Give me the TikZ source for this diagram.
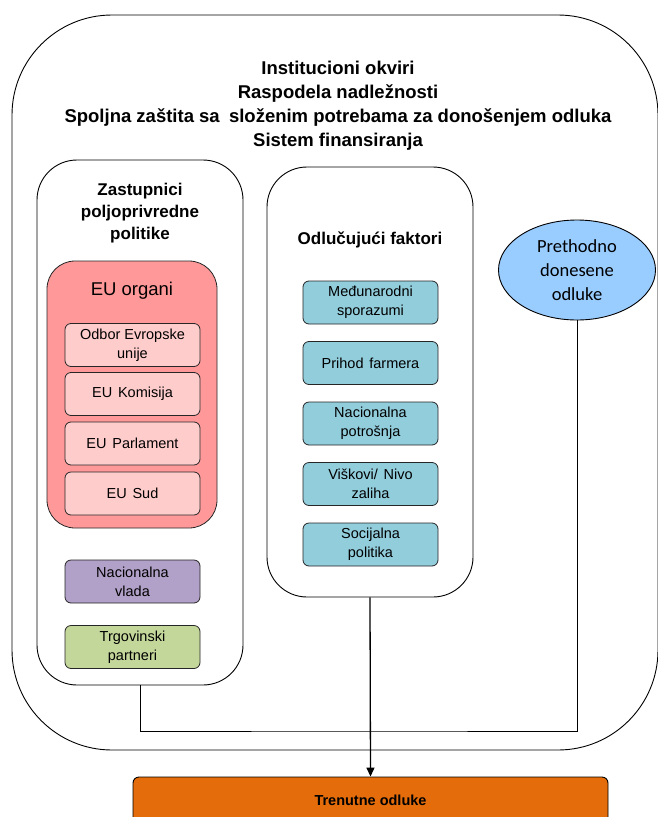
\documentclass[tikz,border=0pt]{standalone}
\usepackage{fontspec}
\setmainfont{Liberation Sans}
\newfontfamily\carl{Carlito}
\usetikzlibrary{arrows.meta,shapes.geometric}
\definecolor{euorg}{HTML}{FF9999}
\definecolor{euin}{HTML}{FFCCCC}
\definecolor{natgov}{HTML}{B1A0C7}
\definecolor{trade}{HTML}{C4D79B}
\definecolor{factor}{HTML}{92CDDC}
\definecolor{prevc}{HTML}{99CCFF}
\definecolor{curr}{HTML}{E46C0A}
\begin{document}
\begin{tikzpicture}[x=1pt,y=-1pt,
  frame/.style={draw=black, line width=0.9pt, fill=white, inner sep=0pt},
  sbox/.style={draw=black!85, line width=0.8pt, rounded corners=6pt, minimum width=135pt,
    minimum height=43pt, align=center, inner sep=0pt,
    font=\fontsize{14.5}{19}\selectfont},
  ttl/.style={align=center, font=\bfseries\fontsize{17}{22}\selectfont},
  conn/.style={draw=black, line width=0.9pt}
]
\useasboundingbox (0,0) rectangle (657,817);
% outer frame
\node[frame, rounded corners=100pt, minimum width=646pt, minimum height=735pt] (outer) at (335,382.5) {};
\node[align=center, font=\bfseries\fontsize{18.5}{24}\selectfont] (title) at (338,106)
  {Institucioni okviri\\Raspodela nadležnosti\\Spoljna zaštita sa\hspace{0.5em}složenim potrebama za donošenjem odluka\\Sistem finansiranja};
% left frame
\node[frame, rounded corners=40pt, minimum width=206pt, minimum height=525pt] (zast) at (140,422.5) {};
\node[ttl] (zastt) at (140,213) {Zastupnici\\poljoprivredne\\politike};
\node[draw=black!85, line width=0.8pt, fill=euorg, rounded corners=28pt, minimum width=170pt, minimum height=267pt, inner sep=0pt] (eu) at (132,394.5) {};
\node[font=\fontsize{18.5}{22}\selectfont] (eut) at (132,291) {EU organi};
\node[sbox, fill=euin] (odbor) at (132.5,345) {Odbor Evropske\\unije};
\node[sbox, fill=euin] (kom) at (132.5,394) {EU\hspace{0.4em}Komisija};
\node[sbox, fill=euin] (parl) at (132.5,443.5) {EU\hspace{0.4em}Parlament};
\node[sbox, fill=euin] (sud) at (132.5,493.5) {EU\hspace{0.4em}Sud};
\node[sbox, fill=natgov] (vlada) at (132.5,581.5) {Nacionalna\\vlada};
\node[sbox, fill=trade] (trg) at (132.5,647) {Trgovinski\\partneri};
% middle frame
\node[frame, rounded corners=40pt, minimum width=206pt, minimum height=430pt] (odl) at (370,382) {};
\node[ttl] (odlt) at (370,240) {Odlučujući faktori};
\node[sbox, fill=factor] (med) at (370.5,302.5) {Međunarodni\\sporazumi};
\node[sbox, fill=factor] (prih) at (370.5,363) {Prihod\hspace{0.4em}farmera};
\node[sbox, fill=factor] (nac) at (370.5,423.5) {Nacionalna\\potrošnja};
\node[sbox, fill=factor] (visk) at (370.5,484) {Viškovi/\hspace{0.4em}Nivo\\zaliha};
\node[sbox, fill=factor] (soc) at (370.5,544.5) {Socijalna\\politika};
% ellipse
\node[ellipse, draw=black, line width=0.9pt, fill=prevc, minimum width=157pt, minimum height=100pt,
  inner sep=0pt, align=center, font=\carl\fontsize{18.5}{24}\selectfont] (prev) at (577,270)
  {Prethodno\\donesene\\odluke};
% bottom box
\node[draw=black, line width=0.9pt, fill=curr, rounded corners=6pt, minimum width=475pt,
  minimum height=46pt, inner sep=0pt, font=\bfseries\fontsize{14.5}{18}\selectfont] (cur) at (370.5,800) {Trenutne odluke};
% connectors
\coordinate (jn) at (360,731);
\draw[conn] (zast.south) |- (jn) -| (prev.south);
\draw[draw=black, line width=1.3pt, -{Triangle[length=9pt,width=8pt]}] (odl.south) -- (cur.north);
\end{tikzpicture}
\end{document}
